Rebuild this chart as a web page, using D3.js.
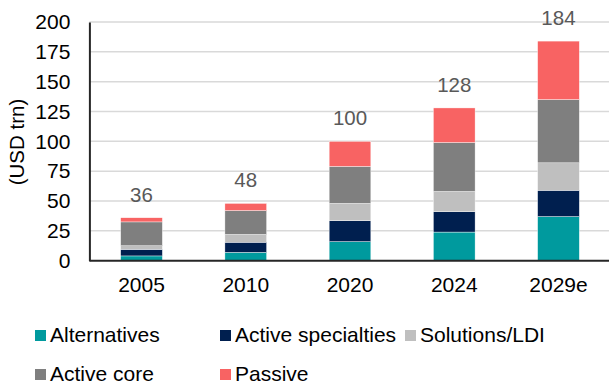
<!DOCTYPE html>
<html>
<head>
<meta charset="utf-8">
<script src="https://cdn.jsdelivr.net/npm/d3@7"></script>
<style>
  html, body { margin: 0; padding: 0; background: #fff; }
  svg { display: block; font-family: "Liberation Sans", Arial, sans-serif; }
</style>
</head>
<body>
<svg id="chart" width="609" height="385"></svg>
<script>
// Global assets under management by segment (USD trn)
const years = ["2005", "2010", "2020", "2024", "2029e"];
const alternatives      = [4, 7, 16, 24, 37];
const activeSpecialties = [5.5, 8.5, 17.5, 17, 22];
const solutionsLDI      = [3, 6.5, 14.5, 17, 23];
const activeCore        = [20, 20, 31, 41, 53];
const passive           = [3.5, 6, 21, 29, 49];
const totals            = [36, 48, 100, 128, 184];
const yTicks            = [0, 25, 50, 75, 100, 125, 150, 175, 200];

const seriesNames  = ["Alternatives", "Active specialties", "Solutions/LDI", "Active core", "Passive"];
const seriesValues = [alternatives, activeSpecialties, solutionsLDI, activeCore, passive];
const colors       = ["#009a9e", "#001f4f", "#bfbfbf", "#7f7f7f", "#f86363"];

const rows = years.map((yr, i) => {
  const r = { year: yr };
  seriesNames.forEach((s, k) => { r[s] = seriesValues[k][i]; });
  return r;
});

const svg = d3.select("#chart");
const plotLeft = 89.4, plotRight = 610.6, plotTop = 22, plotBottom = 260.7;

const x = d3.scaleBand().domain(years).range([plotLeft, plotRight])
  .paddingInner(0.6).paddingOuter(0.3);
const y = d3.scaleLinear().domain([0, 200]).range([plotBottom, plotTop]);

// horizontal gridlines
svg.append("g").selectAll("line")
  .data(yTicks.filter(t => t > 0))
  .join("line")
  .attr("x1", plotLeft).attr("x2", 609)
  .attr("y1", d => y(d)).attr("y2", d => y(d))
  .attr("stroke", "#d9d9d9").attr("stroke-width", 1.5);

// stacked bars
const stack = d3.stack().keys(seriesNames)(rows);
svg.append("g").selectAll("g")
  .data(stack)
  .join("g")
  .attr("fill", (d, i) => colors[i])
  .selectAll("rect")
  .data(d => d)
  .join("rect")
  .attr("x", d => x(d.data.year))
  .attr("width", x.bandwidth())
  .attr("y", d => y(d[1]))
  .attr("height", d => y(d[0]) - y(d[1]))
  .attr("stroke", "#ffffff").attr("stroke-width", 0.4);

// total labels
svg.append("g").selectAll("text")
  .data(years)
  .join("text")
  .attr("x", d => x(d) + x.bandwidth() / 2)
  .attr("y", (d, i) => y(totals[i]) - 16)
  .attr("text-anchor", "middle")
  .attr("font-size", 20.5)
  .attr("fill", "#595959")
  .text((d, i) => totals[i]);

// y axis
const yAxis = svg.append("g").attr("transform", `translate(${plotLeft},0)`)
  .call(d3.axisLeft(y).tickValues(yTicks).tickSize(0).tickPadding(19));
yAxis.select(".domain").attr("stroke", "#262626").attr("stroke-width", 2);
yAxis.selectAll("text").attr("font-size", 21).attr("fill", "#000")
  .attr("font-family", "Liberation Sans, Arial, sans-serif");

// x axis
const xAxis = svg.append("g").attr("transform", `translate(0,${plotBottom})`)
  .call(d3.axisBottom(x).tickSize(0).tickPadding(16));
xAxis.select(".domain").attr("stroke", "#262626").attr("stroke-width", 2)
  .attr("d", `M${plotLeft},0H609`);
xAxis.selectAll("text").attr("font-size", 21).attr("fill", "#000")
  .attr("font-family", "Liberation Sans, Arial, sans-serif");

// y axis title
svg.append("text")
  .attr("transform", "translate(24,142) rotate(-90)")
  .attr("text-anchor", "middle")
  .attr("font-size", 20.5)
  .attr("fill", "#000")
  .text("(USD trn)");

// legend
const legendPos = [[35, 330], [220, 330], [405, 330], [35, 369], [220, 369]];
const legend = svg.append("g").selectAll("g")
  .data(seriesNames)
  .join("g")
  .attr("transform", (d, i) => `translate(${legendPos[i][0]},${legendPos[i][1]})`);
legend.append("rect").attr("width", 11).attr("height", 11)
  .attr("fill", (d, i) => colors[i]);
legend.append("text").attr("x", 15).attr("y", 12)
  .attr("font-size", 21).attr("fill", "#000")
  .text(d => d);
</script>
</body>
</html>
